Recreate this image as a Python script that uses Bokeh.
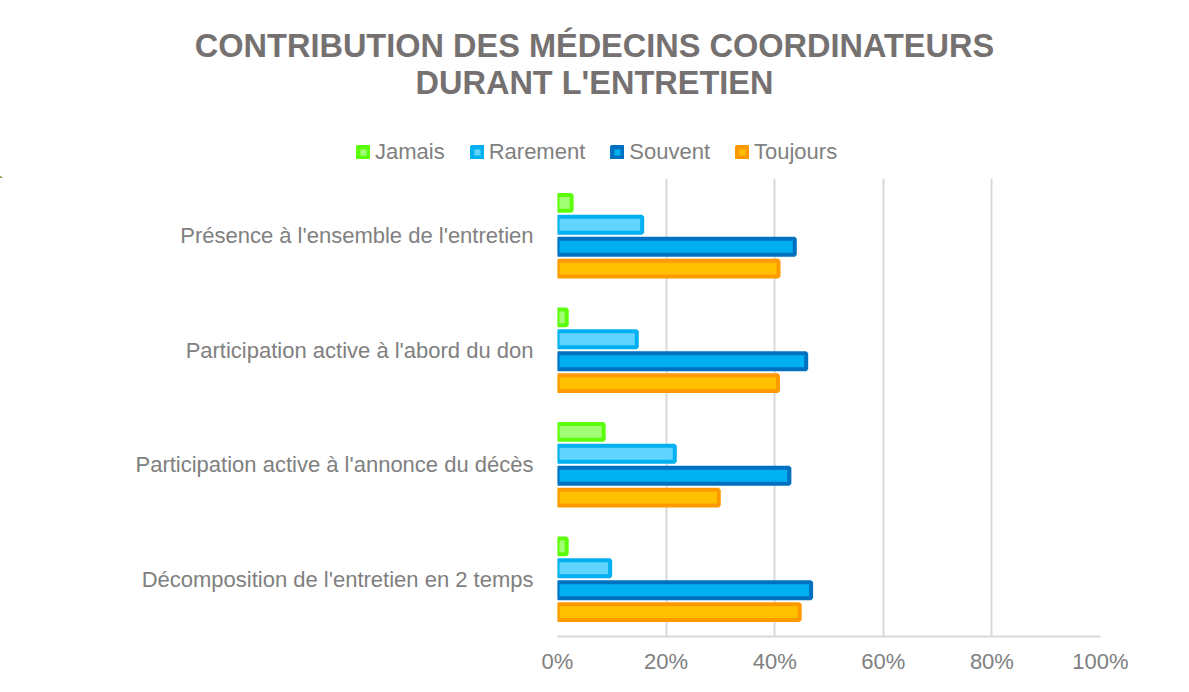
from bokeh.plotting import figure
from bokeh.models import (FactorRange, Range1d, Legend, LegendItem, Label, FixedTicker,
                          ColumnDataSource)
from bokeh.transform import dodge
from bokeh.embed import file_html
from bokeh.resources import INLINE

categories = [
    "Présence à l'ensemble de l'entretien",
    "Participation active à l'abord du don",
    "Participation active à l'annonce du décès",
    "Décomposition de l'entretien en 2 temps",
]
series = ["Jamais", "Rarement", "Souvent", "Toujours"]
jamais = [2.6, 1.7, 8.5, 1.7]
rarement = [15.6, 14.6, 21.6, 9.7]
souvent = [43.7, 45.8, 42.7, 46.7]
toujours = [40.7, 40.6, 29.7, 44.6]
tick_values = [0, 20, 40, 60, 80, 100]
tick_labels = ["0%", "20%", "40%", "60%", "80%", "100%"]
title_lines = ["CONTRIBUTION DES MÉDECINS COORDINATEURS", "DURANT L'ENTRETIEN"]

border_colors = ["#5CFF0A", "#00B0F0", "#0070C0", "#FF9900"]
fill_colors = ["#A2FF75", "#5FD5FF", "#00B0F0", "#FFC000"]
offsets = [0.287, 0.0957, -0.0957, -0.287]

FONT = "Liberation Sans"
GRAY = "#808080"
TITLE_GRAY = "#767171"

W = 1173
TOP_H = 178
BOT_H = 498

# ---------- header figure: title + legend ----------
top = figure(width=W, height=TOP_H, output_backend="svg", toolbar_location=None,
             x_range=Range1d(0, W), y_range=Range1d(0, TOP_H),
             x_axis_location=None, y_axis_location=None,
             min_border_left=0, min_border_right=0, min_border_top=0, min_border_bottom=0)
top.outline_line_color = None
top.xgrid.visible = False
top.ygrid.visible = False
top.background_fill_color = "white"
top.border_fill_color = "white"

for txt, yy in zip(title_lines, [TOP_H - 45, TOP_H - 82]):
    top.add_layout(Label(x=594, y=yy, text=txt, text_align="center", text_baseline="middle",
                         text_font=FONT, text_font_style="bold", text_font_size="32.5px",
                         text_color=TITLE_GRAY))

# legend proxies (one point each, placed far outside the visible header range)
proxy = []
for bc, fc in zip(border_colors, fill_colors):
    proxy.append(top.hbar(y=[-5000], right=[-5000], left=-5001, height=1,
                          fill_color=fc, line_color=bc, line_width=5))

legend = Legend(items=[LegendItem(label=s, renderers=[r]) for s, r in zip(series, proxy)],
                orientation="horizontal", location=(356, 13),
                glyph_width=14, glyph_height=14, label_standoff=5, spacing=25,
                padding=0, margin=0, border_line_color=None, background_fill_alpha=0,
                label_text_font=FONT, label_text_font_size="22px", label_text_color=GRAY)
top.add_layout(legend, "center")

# ---------- chart figure ----------
src = ColumnDataSource(dict(cat=categories, Jamais=jamais, Rarement=rarement,
                            Souvent=souvent, Toujours=toujours))

p = figure(width=W, height=BOT_H, output_backend="svg", toolbar_location=None,
           y_range=FactorRange(factors=categories[::-1], range_padding=0),
           x_range=Range1d(0, 100),
           min_border_left=557, min_border_right=73, min_border_top=0, min_border_bottom=38)
p.outline_line_color = None
p.background_fill_color = "white"
p.border_fill_color = "white"

for s, bc, fc, off in zip(series, border_colors, fill_colors, offsets):
    p.hbar(y=dodge("cat", off, range=p.y_range), left=0, right=s, height=0.139,
           source=src, fill_color=fc, line_color=bc, line_width=4)

p.xgrid.grid_line_color = "#D9D9D9"
p.xgrid.grid_line_width = 2
p.ygrid.grid_line_color = None

p.xaxis.ticker = FixedTicker(ticks=tick_values)
p.xaxis.major_label_overrides = {v: l for v, l in zip(tick_values, tick_labels)}
p.xaxis.axis_line_color = "#D9D9D9"
p.xaxis.axis_line_width = 2
p.xaxis.major_tick_line_color = None
p.xaxis.minor_tick_line_color = None
p.xaxis.major_tick_out = 0
p.xaxis.major_label_text_font = FONT
p.xaxis.major_label_text_font_size = "22px"
p.xaxis.major_label_text_color = GRAY
p.xaxis.major_label_standoff = 12

p.yaxis.axis_line_color = None
p.yaxis.major_tick_line_color = None
p.yaxis.minor_tick_line_color = None
p.yaxis.major_tick_out = 0
p.yaxis.major_label_text_font = FONT
p.yaxis.major_label_text_font_size = "22px"
p.yaxis.major_label_text_color = GRAY
p.yaxis.major_label_standoff = 24

open("out.html", "w").write(file_html((top, p), INLINE))
